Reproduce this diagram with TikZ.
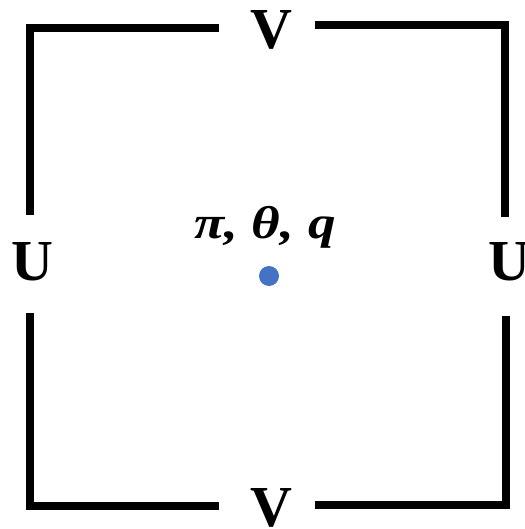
\documentclass[tikz,border=0pt]{standalone}
\usepackage{fontspec}
\setmainfont{Liberation Serif}
\definecolor{dotblue}{HTML}{4472C4}
\begin{document}
\begin{tikzpicture}[x=1pt,y=-1pt,
  frame/.style={line width=7.5pt,line join=miter,line cap=butt,black},
  biglabel/.style={font=\fontsize{58}{58}\selectfont\bfseries,inner sep=0pt,anchor=center},
  greek/.style={font=\fontsize{46}{46}\selectfont\bfseries\itshape,inner sep=0pt,anchor=base,xscale=1.2}]
\useasboundingbox (0,0) rectangle (524,529);
% labels
\node[biglabel] (vtop) at (271,30) {V};
\node[biglabel] (vbot) at (271,508) {V};
\node[biglabel] (uleft) at (32,262) {U};
\node[biglabel] (uright) at (509,262) {U};
\node[greek] (params) at (265,238) {π, θ, q};
\fill[dotblue] (269,276) circle (10) coordinate (dot);
% frame segments
\draw[frame] (219,28) -- (30,28) -- (30,215);
\draw[frame] (315,25) -- (505,25) -- (505,217);
\draw[frame] (30,313) -- (30,506) -- (219,506);
\draw[frame] (506,316) -- (506,505) -- (315,505);
\end{tikzpicture}
\end{document}
